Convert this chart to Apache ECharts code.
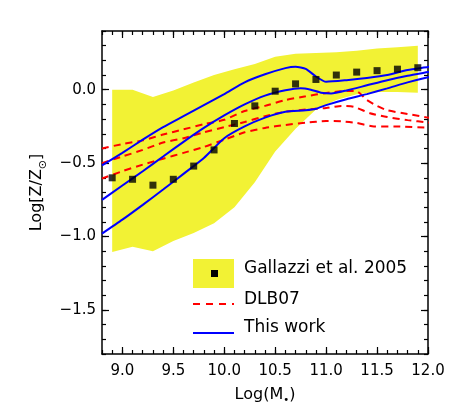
<!DOCTYPE html>
<html>
<head>
<meta charset="utf-8">
<script src="https://cdn.jsdelivr.net/npm/echarts@6/dist/echarts.min.js"></script>
<style>
html,body{margin:0;padding:0;background:#fff;}
#chart{width:458px;height:419px;}
</style>
</head>
<body>
<div id="chart"></div>
<script>
// ---- data ----
const xMajorTicks = [9.0, 9.5, 10.0, 10.5, 11.0, 11.5, 12.0];
const xMinorTicks = [8.8, 8.9, 9.0, 9.1, 9.2, 9.3, 9.4, 9.5, 9.6, 9.7, 9.8, 9.9, 10.0, 10.1, 10.2, 10.3, 10.4, 10.5, 10.6, 10.7, 10.8, 10.9, 11.0, 11.1, 11.2, 11.3, 11.4, 11.5, 11.6, 11.7, 11.8, 11.9, 12.0];
const yMajorTicks = [-1.5, -1.0, -0.5, 0.0];
const yMinorTicks = [-1.8, -1.7, -1.6, -1.5, -1.4, -1.3, -1.2, -1.1, -1.0, -0.9, -0.8, -0.7, -0.6, -0.5, -0.4, -0.3, -0.2, -0.1, 0.0, 0.1, 0.2, 0.3, 0.4];

// Gallazzi et al. 2005 band (log mass, lower, upper)
const bandMass  = [8.9, 9.1, 9.3, 9.5, 9.7, 9.9, 10.1, 10.3, 10.5, 10.7, 10.9, 11.1, 11.3, 11.5, 11.7, 11.9];
const bandLow   = [-1.105, -1.07, -1.10, -1.03, -0.975, -0.91, -0.80, -0.63, -0.42, -0.265, -0.135, -0.07, -0.03, -0.015, -0.015, -0.02];
const bandHigh  = [0.0, 0.0, -0.05, -0.005, 0.05, 0.10, 0.14, 0.175, 0.225, 0.245, 0.25, 0.255, 0.265, 0.28, 0.29, 0.30];

// Gallazzi et al. 2005 median points
const gallMass = [8.9, 9.1, 9.3, 9.5, 9.7, 9.9, 10.1, 10.3, 10.5, 10.7, 10.9, 11.1, 11.3, 11.5, 11.7, 11.9];
const gallZ    = [-0.60, -0.61, -0.65, -0.61, -0.52, -0.41, -0.23, -0.11, -0.01, 0.04, 0.07, 0.10, 0.12, 0.13, 0.14, 0.15];

// This work (blue) : [logM, logZ]
const blueUpper = [[8.8,-0.515],[9.0,-0.43],[9.2,-0.34],[9.4,-0.255],[9.6,-0.18],[9.8,-0.105],[10.0,-0.03],[10.2,0.05],[10.4,0.105],[10.6,0.147],[10.7,0.157],[10.8,0.142],[10.9,0.09],[11.0,0.054],[11.2,0.065],[11.4,0.08],[11.6,0.10],[11.8,0.135],[12.0,0.155],[12.08,0.165]];
const blueMid   = [[8.8,-0.75],[9.0,-0.652],[9.2,-0.555],[9.4,-0.455],[9.6,-0.355],[9.8,-0.26],[10.0,-0.175],[10.2,-0.10],[10.4,-0.04],[10.6,-0.004],[10.75,0.01],[10.85,0.0],[10.95,-0.02],[11.05,-0.025],[11.2,-0.005],[11.4,0.03],[11.6,0.065],[11.8,0.095],[12.0,0.12],[12.08,0.13]];
const blueLow   = [[8.8,-0.98],[9.0,-0.885],[9.2,-0.784],[9.4,-0.68],[9.6,-0.573],[9.8,-0.465],[10.0,-0.33],[10.2,-0.25],[10.4,-0.19],[10.6,-0.15],[10.8,-0.14],[10.9,-0.13],[11.0,-0.105],[11.2,-0.065],[11.4,-0.03],[11.6,0.009],[11.8,0.05],[12.0,0.085],[12.08,0.095]];

// DLB07 (red dashed)
const redTop = [[8.8,-0.40],[9.0,-0.37],[9.2,-0.345],[9.4,-0.305],[9.6,-0.27],[9.8,-0.235],[10.0,-0.205],[10.2,-0.145],[10.4,-0.11],[10.6,-0.07],[10.8,-0.045],[11.0,-0.022],[11.2,-0.008],[11.3,-0.01],[11.4,-0.07],[11.5,-0.11],[11.6,-0.14],[11.8,-0.165],[12.0,-0.19],[12.08,-0.2]];
const redMid = [[8.8,-0.50],[9.0,-0.455],[9.2,-0.41],[9.4,-0.36],[9.6,-0.33],[9.8,-0.29],[10.0,-0.255],[10.2,-0.22],[10.4,-0.18],[10.6,-0.15],[10.8,-0.135],[11.0,-0.125],[11.15,-0.11],[11.27,-0.116],[11.43,-0.16],[11.6,-0.186],[11.8,-0.207],[12.0,-0.223],[12.08,-0.23]];
const redLow = [[8.8,-0.605],[9.0,-0.555],[9.2,-0.51],[9.4,-0.47],[9.6,-0.43],[9.8,-0.39],[10.0,-0.34],[10.2,-0.29],[10.4,-0.26],[10.6,-0.24],[10.8,-0.225],[11.0,-0.213],[11.15,-0.215],[11.3,-0.226],[11.47,-0.25],[11.7,-0.25],[12.0,-0.257],[12.08,-0.257]];

const legendLabels = ['Gallazzi et al. 2005', 'DLB07', 'This work'];
const xTitle = 'Log(M';
const yTitle = 'Log[Z/Z';

// ---- chart ----
const FONT = '"DejaVu Sans", sans-serif';
const YELLOW = '#f2f234';
const BLUE = '#0000ff';
const RED = '#ff0000';
const fmt = v => v.toFixed(1).replace('-', '\u2212');

const X_MIN = 8.8, X_MAX = 12.0, Y_MIN = -1.8, Y_MAX = 0.4;

function xAx(pos, ticks, len, showLine, showLabel, extra) {
  return Object.assign({
    type: 'value', min: X_MIN, max: X_MAX, position: pos,
    axisLine: { show: showLine, onZero: false, lineStyle: { color: '#000', width: 1.5 } },
    axisTick: { show: true, inside: true, length: len, customValues: ticks, lineStyle: { color: '#000', width: 1.2 } },
    axisLabel: { show: showLabel, customValues: ticks, formatter: fmt, fontSize: 15, fontFamily: FONT, color: '#000', margin: 10 },
    splitLine: { show: false }
  }, extra || {});
}
function yAx(pos, ticks, len, showLine, showLabel, extra) {
  return Object.assign({
    type: 'value', min: Y_MIN, max: Y_MAX, position: pos,
    axisLine: { show: showLine, onZero: false, lineStyle: { color: '#000', width: 1.5 } },
    axisTick: { show: true, inside: true, length: len, customValues: ticks, lineStyle: { color: '#000', width: 1.2 } },
    axisLabel: { show: showLabel, customValues: ticks, formatter: fmt, fontSize: 15, fontFamily: FONT, color: '#000', margin: 6 },
    splitLine: { show: false }
  }, extra || {});
}

const chart = echarts.init(document.getElementById('chart'), null, { renderer: 'canvas' });

const lineSeries = (data, color, dashed) => ({
  type: 'line', data: data, showSymbol: false, symbol: 'none', smooth: 0.2, clip: false,
  lineStyle: { color: color, width: 2, type: dashed ? [7, 5] : 'solid' },
  z: 3, animation: false, silent: true
});

const option = {
  animation: false,
  backgroundColor: '#fff',
  grid: { left: 102, right: 30, top: 31, bottom: 65, containLabel: false },
  xAxis: [
    xAx('bottom', xMajorTicks, 7, true, true, {
      name: '{n|' + xTitle + '}{s|•}{n|)}', nameLocation: 'middle', nameGap: 33,
      nameTextStyle: { rich: { n: { fontSize: 16, fontFamily: FONT, color: '#000' }, s: { fontSize: 10, fontFamily: FONT, color: '#000', verticalAlign: 'bottom', padding: [0, 0, -2, 0] } } }
    }),
    xAx('bottom', xMinorTicks, 4, false, false),
    xAx('top', xMajorTicks, 7, true, false),
    xAx('top', xMinorTicks, 4, false, false)
  ],
  yAxis: [
    yAx('left', yMajorTicks, 7, true, true, {
      name: '{n|' + yTitle + '}{s|⊙}{n|]}', nameLocation: 'middle', nameGap: 56, nameRotate: 90,
      nameTextStyle: { rich: { n: { fontSize: 16, fontFamily: FONT, color: '#000' }, s: { fontSize: 11, fontFamily: FONT, color: '#000', verticalAlign: 'bottom', padding: [0, 0, -4, 0] } } }
    }),
    yAx('left', yMinorTicks, 4, false, false),
    yAx('right', yMajorTicks, 7, true, false),
    yAx('right', yMinorTicks, 4, false, false)
  ],
  series: [
    {
      type: 'custom', name: legendLabels[0] + ' band', silent: true, z: 1,
      data: bandMass.map((m, i) => [m, bandLow[i], bandHigh[i]]),
      encode: { x: 0, y: [1, 2] },
      renderItem: function (params, api) {
        if (params.dataIndex !== 0) return null;
        const pts = [];
        for (let i = 0; i < bandMass.length; i++) pts.push(api.coord([bandMass[i], bandHigh[i]]));
        for (let i = bandMass.length - 1; i >= 0; i--) pts.push(api.coord([bandMass[i], bandLow[i]]));
        return { type: 'polygon', shape: { points: pts }, style: { fill: YELLOW, stroke: null } };
      }
    },
    lineSeries(redTop, RED, true),
    lineSeries(redMid, RED, true),
    lineSeries(redLow, RED, true),
    lineSeries(blueUpper, BLUE, false),
    lineSeries(blueMid, BLUE, false),
    lineSeries(blueLow, BLUE, false),
    {
      type: 'scatter', name: legendLabels[0], symbol: 'rect', symbolSize: 7, z: 5,
      itemStyle: { color: '#000' },
      data: gallMass.map((m, i) => [m, gallZ[i]]), silent: true
    }
  ],
  graphic: [
    { type: 'rect', shape: { x: 193, y: 259, width: 41, height: 29 }, style: { fill: YELLOW } },
    { type: 'rect', shape: { x: 211, y: 270, width: 7, height: 7 }, style: { fill: '#000' } },
    { type: 'text', x: 244, y: 268.5, style: { text: legendLabels[0], font: '17px "DejaVu Sans"', fill: '#000', verticalAlign: 'middle' } },
    { type: 'line', shape: { x1: 193, y1: 304, x2: 234, y2: 304 }, style: { stroke: RED, lineWidth: 2, lineDash: [7, 6] } },
    { type: 'text', x: 244, y: 299.5, style: { text: legendLabels[1], font: '17px "DejaVu Sans"', fill: '#000', verticalAlign: 'middle' } },
    { type: 'line', shape: { x1: 193, y1: 333, x2: 234, y2: 333 }, style: { stroke: BLUE, lineWidth: 2 } },
    { type: 'text', x: 244, y: 327.5, style: { text: legendLabels[2], font: '17px "DejaVu Sans"', fill: '#000', verticalAlign: 'middle' } }
  ]
};
chart.setOption(option);
</script>
</body>
</html>
